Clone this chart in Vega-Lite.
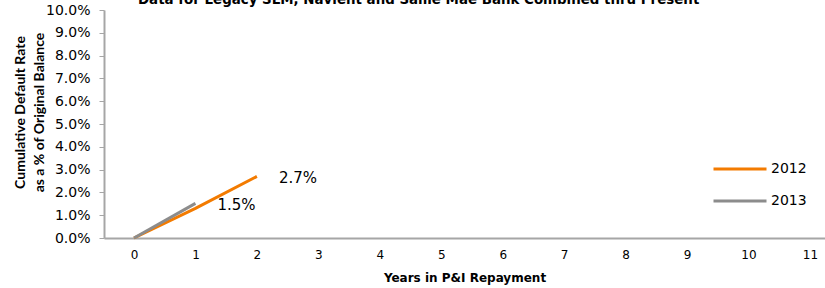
{
  "$schema": "https://vega.github.io/schema/vega-lite/v6.json",
  "autosize": "none",
  "width": 721,
  "height": 228,
  "padding": {"left": 104, "top": 10, "right": 0, "bottom": 50},
  "background": "white",
  "title": {
    "text": "Data for Legacy SLM, Navient and Sallie Mae Bank Combined thru Present",
    "font": "DejaVu Sans",
    "fontSize": 13.4,
    "fontWeight": "bold",
    "color": "#000000",
    "anchor": "start",
    "frame": "group",
    "dx": 34,
    "baseline": "alphabetic",
    "offset": -14
  },
  "config": {
    "view": {"stroke": null},
    "font": "DejaVu Sans"
  },
  "data": {
    "values": [
      {"year": 0, "rate": 0.0, "cohort": "2012", "label": null},
      {"year": 1, "rate": 0.013, "cohort": "2012", "label": null},
      {"year": 2, "rate": 0.027, "cohort": "2012", "label": "2.7%"},
      {"year": 0, "rate": 0.0, "cohort": "2013", "label": null},
      {"year": 1, "rate": 0.0152, "cohort": "2013", "label": "1.5%"}
    ]
  },
  "encoding": {
    "x": {
      "field": "year",
      "type": "quantitative",
      "scale": {"domain": [-0.488, 11.245], "nice": false, "zero": false},
      "axis": {
        "values": [0, 1, 2, 3, 4, 5, 6, 7, 8, 9, 10, 11],
        "format": "d",
        "grid": false,
        "ticks": false,
        "domainColor": "#A6A6A6",
        "domainWidth": 2,
        "labelFont": "DejaVu Sans",
        "labelFontSize": 12,
        "labelColor": "#000000",
        "labelPadding": 11,
        "title": "Years in P&I Repayment",
        "titleFont": "DejaVu Sans",
        "titleFontSize": 12,
        "titleFontWeight": "bold",
        "titleColor": "#000000",
        "titlePadding": 12
      }
    },
    "y": {
      "field": "rate",
      "type": "quantitative",
      "scale": {"domain": [0, 0.1], "nice": false},
      "axis": {
        "values": [0, 0.01, 0.02, 0.03, 0.04, 0.05, 0.06, 0.07, 0.08, 0.09, 0.1],
        "format": ".1%",
        "grid": false,
        "domainColor": "#A6A6A6",
        "domainWidth": 2,
        "tickColor": "#A6A6A6",
        "tickSize": 5,
        "labelFont": "DejaVu Sans",
        "labelFontSize": 14,
        "labelColor": "#000000",
        "labelPadding": 9,
        "title": ["Cumulative Default Rate", "as a % of Original Balance"],
        "titleFont": "Lato",
        "titleFontSize": 14,
        "titleFontWeight": "bold",
        "titleColor": "#000000",
        "titleLineHeight": 19,
        "titleX": -77,
        "titleY": 102
      }
    }
  },
  "layer": [
    {
      "mark": {"type": "line", "strokeWidth": 3, "strokeCap": "butt"},
      "encoding": {
        "color": {
          "field": "cohort",
          "type": "nominal",
          "scale": {"domain": ["2012", "2013"], "range": ["#F37B00", "#8C8C8C"]},
          "legend": {
            "orient": "none",
            "legendX": 608,
            "legendY": 149,
            "title": null,
            "symbolType": "stroke",
            "symbolSize": 2809,
            "symbolStrokeWidth": 3,
            "clipHeight": 20,
            "rowPadding": 12,
            "labelFont": "DejaVu Sans",
            "labelFontSize": 14,
            "labelColor": "#000000",
            "labelOffset": 3
          }
        },
        "order": {"field": "year"}
      }
    },
    {
      "transform": [{"filter": "datum.label != null"}],
      "mark": {"type": "text", "align": "left", "baseline": "middle", "dx": 22, "dy": 2, "fontSize": 15, "font": "DejaVu Sans", "color": "#000000"},
      "encoding": {
        "text": {"field": "label"}
      }
    }
  ]
}
